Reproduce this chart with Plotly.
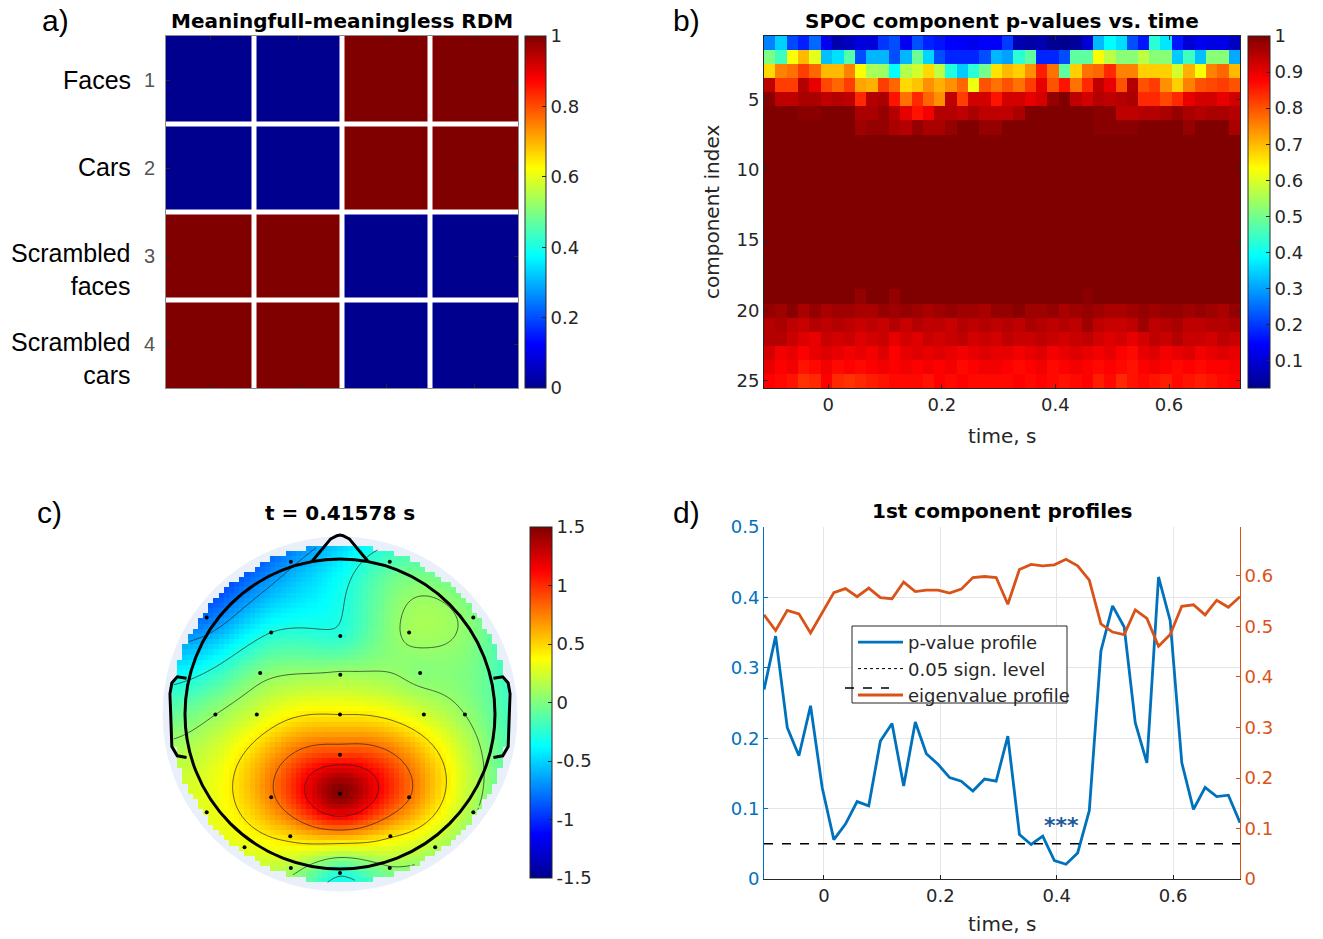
import numpy as np
import plotly.graph_objects as go

# ------------------------------------------------------------------ data
rdm_index = [1, 2, 3, 4]
rdm_labels = ["Faces", "Cars", "Scrambled<br>faces", "Scrambled<br>cars"]
rdm_values = [[0, 0, 1, 1],
              [0, 0, 1, 1],
              [1, 1, 0, 0],
              [1, 1, 0, 0]]

times = [-0.103, -0.083, -0.063, -0.043, -0.023, -0.003, 0.017, 0.037, 0.057, 0.077,
         0.097, 0.117, 0.137, 0.157, 0.176, 0.196, 0.216, 0.236, 0.256, 0.276,
         0.296, 0.316, 0.336, 0.356, 0.376, 0.396, 0.416, 0.436, 0.456, 0.476,
         0.496, 0.516, 0.535, 0.555, 0.575, 0.595, 0.615, 0.635, 0.655, 0.675,
         0.695, 0.715]
components = list(range(1, 26))

# 1st component p-value profile (also row 1 of the SPOC map)
p_profile = [0.269, 0.345, 0.215, 0.175, 0.246, 0.130, 0.056, 0.078, 0.110, 0.104,
             0.196, 0.221, 0.132, 0.223, 0.178, 0.163, 0.144, 0.139, 0.125, 0.142,
             0.139, 0.203, 0.063, 0.049, 0.061, 0.026, 0.021, 0.037, 0.097, 0.324,
             0.388, 0.358, 0.222, 0.165, 0.429, 0.367, 0.165, 0.099, 0.130, 0.117,
             0.119, 0.080]
eig_profile = [0.523, 0.492, 0.532, 0.525, 0.487, 0.528, 0.567, 0.575, 0.559, 0.576,
               0.557, 0.555, 0.588, 0.569, 0.572, 0.572, 0.566, 0.574, 0.597, 0.599,
               0.597, 0.544, 0.613, 0.623, 0.620, 0.622, 0.633, 0.620, 0.592, 0.505,
               0.489, 0.484, 0.533, 0.516, 0.461, 0.484, 0.540, 0.543, 0.523, 0.552,
               0.538, 0.559]
sign_level = 0.05
star_time, star_value = 0.408, 0.076

row02 = [0.51, 0.45, 0.63, 0.70, 0.61, 0.33, 0.36, 0.47, 0.22, 0.32, 0.32, 0.22, 0.32, 0.49, 0.35, 0.22, 0.18, 0.18, 0.18, 0.22, 0.32,
         0.30, 0.43, 0.48, 0.18, 0.18, 0.22, 0.48, 0.48, 0.63, 0.57, 0.52, 0.52, 0.57, 0.52, 0.52, 0.34, 0.45, 0.33, 0.52, 0.52, 0.31]
row03 = [0.67, 0.755, 0.77, 0.82, 0.78, 0.70, 0.70, 0.755, 0.63, 0.55, 0.54, 0.39, 0.56, 0.59, 0.67, 0.57, 0.42, 0.34, 0.43, 0.50, 0.66,
         0.70, 0.68, 0.74, 0.85, 0.77, 0.48, 0.68, 0.77, 0.78, 0.84, 0.755, 0.755, 0.68, 0.68, 0.68, 0.59, 0.71, 0.63, 0.755, 0.78, 0.70]
row04 = [0.94, 0.82, 0.82, 0.95, 0.90, 0.81, 0.78, 0.82, 0.72, 0.71, 0.82, 0.78, 0.67, 0.69, 0.74, 0.71, 0.74, 0.78, 0.62, 0.80, 0.77,
         0.80, 0.77, 0.82, 0.90, 0.80, 0.86, 0.77, 0.84, 0.94, 0.90, 0.80, 0.95, 0.80, 0.82, 0.74, 0.68, 0.755, 0.80, 0.81, 0.82, 0.80]
row05 = [0.99, 0.94, 0.94, 0.96, 0.96, 0.94, 0.95, 0.94, 0.84, 0.95, 0.96, 0.86, 0.77, 0.84, 0.78, 0.74, 0.94, 0.82, 0.92, 0.92, 0.86,
         0.92, 0.92, 0.90, 0.92, 0.98, 1.00, 0.94, 0.92, 0.95, 0.94, 0.95, 0.96, 0.84, 0.84, 0.81, 0.84, 0.90, 0.92, 0.92, 0.90, 0.92]
row06 = [1.00, 1.00, 1.00, 0.99, 0.99, 1.00, 1.00, 1.00, 0.96, 0.96, 0.98, 0.95, 0.90, 0.86, 0.89, 0.95, 0.95, 0.94, 0.96, 0.94, 0.94,
         0.94, 0.96, 1.00, 1.00, 1.00, 1.00, 1.00, 1.00, 0.99, 0.99, 0.94, 0.94, 0.95, 0.95, 0.96, 0.98, 0.96, 0.95, 0.96, 0.96, 0.95]
row07 = [1.00, 1.00, 1.00, 1.00, 1.00, 1.00, 1.00, 1.00, 0.97, 0.98, 0.98, 0.96, 0.95, 0.98, 0.96, 0.96, 0.98, 1.00, 1.00, 0.98, 0.98,
         1.00, 1.00, 1.00, 1.00, 1.00, 1.00, 1.00, 1.00, 0.99, 0.99, 0.99, 0.99, 1.00, 1.00, 1.00, 1.00, 0.98, 1.00, 1.00, 1.00, 0.96]
row_flat = [1.00] * 42   # components 8-18 are saturated
row19 = [1.00, 1.00, 1.00, 1.00, 1.00, 1.00, 1.00, 1.00, 0.98, 1.00, 1.00, 0.98, 1.00, 1.00, 1.00, 1.00, 1.00, 1.00, 1.00, 1.00, 1.00,
         1.00, 1.00, 1.00, 1.00, 1.00, 1.00, 1.00, 0.99, 1.00, 1.00, 1.00, 1.00, 1.00, 1.00, 1.00, 1.00, 1.00, 1.00, 1.00, 1.00, 1.00]
row20 = [0.98, 0.97, 0.99, 0.96, 0.98, 0.96, 0.97, 0.97, 0.96, 0.96, 0.98, 0.97, 0.98, 0.97, 0.96, 0.97, 0.98, 0.97, 0.97, 0.96, 0.98,
         0.98, 0.99, 0.97, 0.97, 0.98, 0.96, 0.97, 0.98, 0.97, 0.96, 0.96, 0.97, 0.98, 0.97, 0.98, 0.98, 0.97, 0.98, 0.97, 0.96, 0.98]
row21 = [0.95, 0.96, 0.94, 0.93, 0.95, 0.94, 0.95, 0.94, 0.93, 0.94, 0.93, 0.95, 0.93, 0.95, 0.94, 0.94, 0.93, 0.95, 0.94, 0.95, 0.94,
         0.95, 0.94, 0.96, 0.95, 0.94, 0.95, 0.94, 0.97, 0.94, 0.93, 0.93, 0.94, 0.97, 0.94, 0.95, 0.96, 0.94, 0.94, 0.95, 0.95, 0.96]
row22 = [0.95, 0.95, 0.93, 0.91, 0.90, 0.93, 0.92, 0.93, 0.91, 0.92, 0.93, 0.90, 0.92, 0.91, 0.93, 0.92, 0.93, 0.94, 0.92, 0.93, 0.92,
         0.94, 0.93, 0.93, 0.94, 0.93, 0.92, 0.93, 0.94, 0.92, 0.91, 0.92, 0.90, 0.92, 0.94, 0.93, 0.95, 0.93, 0.93, 0.92, 0.94, 0.93]
row23 = [0.92, 0.89, 0.90, 0.88, 0.90, 0.91, 0.90, 0.89, 0.90, 0.89, 0.91, 0.88, 0.90, 0.91, 0.90, 0.91, 0.90, 0.89, 0.90, 0.91, 0.90,
         0.90, 0.89, 0.90, 0.91, 0.89, 0.90, 0.91, 0.90, 0.89, 0.90, 0.88, 0.87, 0.90, 0.91, 0.89, 0.90, 0.91, 0.89, 0.90, 0.91, 0.90]
row24 = [0.90, 0.88, 0.89, 0.86, 0.87, 0.89, 0.87, 0.88, 0.87, 0.88, 0.89, 0.88, 0.89, 0.88, 0.89, 0.88, 0.89, 0.87, 0.88, 0.89, 0.89,
         0.88, 0.87, 0.88, 0.89, 0.87, 0.88, 0.89, 0.88, 0.87, 0.88, 0.87, 0.86, 0.88, 0.89, 0.88, 0.87, 0.88, 0.87, 0.88, 0.88, 0.89]
row25 = [0.88, 0.87, 0.86, 0.83, 0.84, 0.88, 0.84, 0.83, 0.84, 0.85, 0.86, 0.87, 0.87, 0.87, 0.86, 0.88, 0.87, 0.88, 0.87, 0.87, 0.87,
         0.87, 0.88, 0.87, 0.88, 0.87, 0.86, 0.87, 0.88, 0.85, 0.87, 0.84, 0.86, 0.87, 0.86, 0.85, 0.87, 0.86, 0.85, 0.86, 0.87, 0.88]

spoc_p = [p_profile, row02, row03, row04, row05, row06, row07] + [row_flat] * 11 + \
         [row19, row20, row21, row22, row23, row24, row25]
for r in spoc_p:
    assert len(r) == len(times)

# topography at t = 0.41578 s (electrode positions in head-radius units, values)
elec_x = [-0.317, 0.321, -0.860, 0.860, -0.444, 0.002, 0.446, -0.515, 0.002, 0.517,
          -0.804, -0.537, 0.000, 0.541, 0.806, 0.000, -0.444, 0.000, 0.446, -0.860,
          0.860, -0.321, 0.325, -0.616, 0.614, -0.317, 0.000, 0.321]
elec_y = [0.983, 0.983, 0.623, 0.623, 0.526, 0.504, 0.526, 0.265, 0.254, 0.265,
          -0.004, -0.004, -0.004, -0.004, -0.004, -0.263, -0.537, -0.515, -0.537, -0.634,
          -0.634, -0.789, -0.789, -0.860, -0.860, -0.994, -1.026, -0.994]
elec_val = [-0.68, -0.15, -0.80, 0.00, -0.29, -0.25, 0.10, 0.00, 0.10, 0.02,
            0.07, 0.25, 0.43, 0.25, 0.07, 0.95, 0.75, 1.50, 0.80, 0.30,
            0.10, 0.50, 0.45, 0.30, 0.15, 0.15, -0.25, 0.05]
topo_levels = [-0.64, -0.29, 0.07, 0.43, 0.79, 1.14]

# ------------------------------------------------------------------ helpers
W, H = 1323, 939
def fx(p): return p / W
def fy(p): return 1 - p / H

JET = [[0.0, "#00008F"], [0.125, "#0000FF"], [0.375, "#00FFFF"],
       [0.625, "#FFFF00"], [0.875, "#FF0000"], [1.0, "#800000"]]
FONT = "DejaVu Sans"
TXT = "#262626"
BLUE = "#0072BD"
ORANGE = "#D95319"

# biharmonic spline (griddata 'v4') interpolation of electrode values
ex, ey, ev = np.array(elec_x), np.array(elec_y), np.array(elec_val)
def green(r):
    with np.errstate(divide="ignore", invalid="ignore"):
        g = r ** 2 * (np.log(r) - 1)
    return np.where(r == 0, 0.0, g)
wts = np.linalg.solve(green(np.hypot(ex[:, None] - ex[None, :], ey[:, None] - ey[None, :])), ev)
def topo_grid(n, rmax=1.09):
    g = np.linspace(-1.1, 1.1, n)
    GX, GY = np.meshgrid(g, g)
    Z = green(np.hypot(GX[..., None] - ex, GY[..., None] - ey)) @ wts
    Z[np.hypot(GX, GY) > rmax] = np.nan
    return g, Z

def iso_segments(g, Z, level):
    xs, ys = [], []
    n = len(g)
    for j in range(n - 1):
        for i in range(n - 1):
            c = (Z[j, i], Z[j, i + 1], Z[j + 1, i + 1], Z[j + 1, i])
            if any(np.isnan(c)):
                continue
            p = ((g[i], g[j]), (g[i + 1], g[j]), (g[i + 1], g[j + 1]), (g[i], g[j + 1]))
            pts = []
            for a in range(4):
                b = (a + 1) % 4
                va, vb = c[a] - level, c[b] - level
                if (va < 0) != (vb < 0):
                    t = va / (va - vb)
                    pts.append((p[a][0] + t * (p[b][0] - p[a][0]), p[a][1] + t * (p[b][1] - p[a][1])))
            for k in range(0, len(pts) - 1, 2):
                xs += [pts[k][0], pts[k + 1][0], None]
                ys += [pts[k][1], pts[k + 1][1], None]
    return xs, ys

fig = go.Figure()

# ------------------------------------------------------------------ panel a
fig.add_trace(go.Heatmap(z=rdm_values, x=rdm_index, y=rdm_index, coloraxis="coloraxis",
                         xaxis="x", yaxis="y", hoverinfo="skip"))

# ------------------------------------------------------------------ panel b
fig.add_trace(go.Heatmap(z=spoc_p, x=times, y=components, coloraxis="coloraxis2",
                         xaxis="x2", yaxis="y2", zsmooth=False, hoverinfo="skip"))

# ------------------------------------------------------------------ panel c
gx, Zc = topo_grid(67)
fig.add_trace(go.Heatmap(z=Zc, x=gx, y=gx, coloraxis="coloraxis3", xaxis="x3", yaxis="y3",
                         zsmooth=False, hoverinfo="skip"))
gf, Zf = topo_grid(161)
for lv in topo_levels:
    sx, sy = iso_segments(gf, Zf, lv)
    fig.add_trace(go.Scatter(x=sx, y=sy, mode="lines", xaxis="x3", yaxis="y3",
                             line=dict(color="#222222", width=0.7), showlegend=False, hoverinfo="skip"))
nose_x = [-0.18, -0.06, -0.02, 0.0, 0.02, 0.06, 0.18]
nose_y = [0.985, 1.13, 1.15, 1.155, 1.15, 1.13, 0.985]
ear_x = [-0.99, -1.05, -1.085, -1.097, -1.085, -1.05, -0.99]
ear_y = [0.23, 0.24, 0.20, 0.13, -0.21, -0.27, -0.28]
for xs, ys in [(nose_x, nose_y), (ear_x, ear_y), ([-v for v in ear_x], ear_y)]:
    fig.add_trace(go.Scatter(x=xs, y=ys, mode="lines", xaxis="x3", yaxis="y3",
                             line=dict(color="black", width=3), showlegend=False, hoverinfo="skip"))
fig.add_trace(go.Scatter(x=elec_x, y=elec_y, mode="markers", xaxis="x3", yaxis="y3",
                         marker=dict(color="black", size=4), showlegend=False, hoverinfo="skip"))

# ------------------------------------------------------------------ panel d
fig.add_trace(go.Scatter(x=times, y=p_profile, mode="lines", name="p-value profile",
                         line=dict(color=BLUE, width=2.8), xaxis="x4", yaxis="y4"))
fig.add_trace(go.Scatter(x=[None], y=[None], mode="lines", name="0.05 sign. level",
                         line=dict(color="black", width=1, dash="dot"), xaxis="x4", yaxis="y4"))
fig.add_trace(go.Scatter(x=times, y=eig_profile, mode="lines", name="eigenvalue profile",
                         line=dict(color=ORANGE, width=2.8), xaxis="x4", yaxis="y5"))
fig.add_trace(go.Scatter(x=[times[0], times[-1]], y=[sign_level, sign_level], mode="lines",
                         line=dict(color="black", width=1.5, dash="dash"), xaxis="x4", yaxis="y4",
                         showlegend=False, hoverinfo="skip"))

# ------------------------------------------------------------------ layout
tickfont = dict(family=FONT, size=18, color=TXT)

def cbar(x0, y_top, y_bot, thick, vals, texts):
    return dict(x=fx(x0), xanchor="left", y=fy(y_bot), yanchor="bottom",
                len=(y_bot - y_top) / H, lenmode="fraction", thickness=thick,
                thicknessmode="pixels", xpad=0, ypad=0, outlinewidth=1, outlinecolor=TXT,
                tickvals=vals, ticktext=texts, ticks="inside", ticklen=4, tickcolor=TXT,
                tickfont=tickfont)

shapes = []
for b in [v + 0.5 for v in rdm_index[:-1]]:
    shapes.append(dict(type="line", xref="x", yref="y", x0=b, x1=b, y0=0.5, y1=4.5,
                       line=dict(color="white", width=5)))
    shapes.append(dict(type="line", xref="x", yref="y", y0=b, y1=b, x0=0.5, x1=4.5,
                       line=dict(color="white", width=5)))
shapes.append(dict(type="circle", xref="x3", yref="y3", x0=-1.145, y0=-1.145, x1=1.145, y1=1.145,
                   fillcolor="#e9f0f9", line=dict(width=0), layer="below"))
shapes.append(dict(type="circle", xref="x3", yref="y3", x0=-1, y0=-1, x1=1, y1=1,
                   line=dict(color="black", width=3), layer="above"))
# legend box of panel d and the stray dash drawn over it
shapes.append(dict(type="rect", xref="paper", yref="paper", x0=fx(852), x1=fx(1067),
                   y0=fy(703), y1=fy(626), fillcolor="white", line=dict(color=TXT, width=1),
                   layer="above"))
shapes.append(dict(type="line", xref="paper", yref="paper", x0=fx(845), x1=fx(889),
                   y0=fy(688), y1=fy(688), line=dict(color="black", width=1.5, dash="dash"),
                   layer="above"))

ann = []
def label(text, x, y, size, bold=False, family=FONT, color="black", **kw):
    ann.append(dict(text=f"<b>{text}</b>" if bold else text, x=fx(x), y=fy(y), xref="paper",
                    yref="paper", showarrow=False, font=dict(family=family, size=size, color=color),
                    xanchor=kw.pop("xanchor", "center"), yanchor=kw.pop("yanchor", "middle"), **kw))

for t, x, y in [("a)", 55, 20), ("b)", 686, 20), ("c)", 49, 512), ("d)", 686, 512)]:
    label(t, x, y, 30, family="Liberation Sans")
label("Meaningfull-meaningless RDM", 342, 21, 20, bold=True)
label("SPOC component p-values vs. time", 1002, 21, 20, bold=True)
label("t = 0.41578 s", 340, 513, 20, bold=True)
label("1st component profiles", 1002, 511, 20, bold=True)
label("time, s", 1002, 436, 20, color=TXT)
label("time, s", 1002, 924, 20, color=TXT)
label("component index", 712, 212, 20, color=TXT, textangle=-90)
for lab, yc in zip(rdm_labels, [80, 167, 270, 358]):
    label(lab, 133, yc, 25, family="Liberation Sans", xanchor="right", align="right")
ann.append(dict(text="<b>***</b>", x=star_time, y=star_value, xref="x4", yref="y4", showarrow=False,
                font=dict(family=FONT, size=22, color="#1d5a9c")))

common_ax = dict(showgrid=False, zeroline=False, ticks="inside", ticklen=4, tickcolor=TXT,
                 tickfont=tickfont, showline=True, linecolor=TXT, linewidth=1)

fig.update_layout(
    width=W, height=H, margin=dict(l=0, r=0, t=0, b=0, autoexpand=False),
    paper_bgcolor="white", plot_bgcolor="white",
    annotations=ann, shapes=shapes,
    coloraxis=dict(colorscale=JET, cmin=0, cmax=1,
                   colorbar=cbar(525, 36, 388, 21, [0, 0.2, 0.4, 0.6, 0.8, 1],
                                 ["0", "0.2", "0.4", "0.6", "0.8", "1"])),
    coloraxis2=dict(colorscale=JET, cmin=0.024, cmax=1.0,
                    colorbar=cbar(1248, 36, 388, 22, [0.1, 0.2, 0.3, 0.4, 0.5, 0.6, 0.7, 0.8, 0.9, 1.0],
                                  ["0.1", "0.2", "0.3", "0.4", "0.5", "0.6", "0.7", "0.8", "0.9", "1"])),
    coloraxis3=dict(colorscale=JET, cmin=-1.5, cmax=1.5,
                    colorbar=cbar(530, 527, 878, 22, [-1.5, -1, -0.5, 0, 0.5, 1, 1.5],
                                  ["-1.5", "-1", "-0.5", "0", "0.5", "1", "1.5"])),
    # panel a
    xaxis=dict(common_ax, domain=[fx(166), fx(518)], range=[0.5, 4.5], tickvals=rdm_index,
               showticklabels=False, anchor="y", linecolor="#8c8c8c", mirror="ticks"),
    yaxis=dict(common_ax, domain=[fy(388), fy(36)], range=[4.5, 0.5], tickvals=rdm_index,
               ticktext=[str(v) for v in rdm_index], anchor="x", linecolor="#8c8c8c",
               mirror="ticks", tickfont=dict(family="Liberation Sans", size=20, color="#555555"),
               ticklabelstandoff=6),
    # panel b
    xaxis2=dict(common_ax, domain=[fx(764), fx(1240)], range=[-0.113, 0.725],
                tickvals=[0, 0.2, 0.4, 0.6], ticktext=["0", "0.2", "0.4", "0.6"], anchor="y2",
                mirror="ticks"),
    yaxis2=dict(common_ax, domain=[fy(388), fy(36)], range=[25.5, 0.5],
                tickvals=[5, 10, 15, 20, 25], anchor="x2", mirror="ticks"),
    # panel c
    xaxis3=dict(domain=[fx(154), fx(526)], range=[-1.2, 1.2], visible=False, anchor="y3"),
    yaxis3=dict(domain=[fy(900), fy(528)], range=[-1.2, 1.2], visible=False, anchor="x3"),
    # panel d
    xaxis4=dict(common_ax, domain=[fx(764), fx(1240)], range=[times[0], times[-1]],
                tickvals=[0, 0.2, 0.4, 0.6], ticktext=["0", "0.2", "0.4", "0.6"], anchor="y4",
                showgrid=True, gridcolor="#e3e6ea"),
    yaxis4=dict(common_ax, domain=[fy(879), fy(527)], range=[0, 0.5],
                tickvals=[0, 0.1, 0.2, 0.3, 0.4, 0.5], ticktext=["0", "0.1", "0.2", "0.3", "0.4", "0.5"],
                anchor="x4", showgrid=True, gridcolor="#e3e6ea", linecolor=BLUE, tickcolor=BLUE,
                tickfont=dict(family=FONT, size=18, color=BLUE)),
    yaxis5=dict(common_ax, overlaying="y4", side="right", anchor="x4", range=[0, 0.697],
                tickvals=[0, 0.1, 0.2, 0.3, 0.4, 0.5, 0.6],
                ticktext=["0", "0.1", "0.2", "0.3", "0.4", "0.5", "0.6"],
                linecolor=ORANGE, tickcolor=ORANGE,
                tickfont=dict(family=FONT, size=18, color=ORANGE)),
    legend=dict(x=fx(853), y=fy(624), xanchor="left", yanchor="top", bgcolor="rgba(0,0,0,0)",
                borderwidth=0, font=dict(family=FONT, size=18, color=TXT), itemwidth=45,
                tracegroupgap=0),
    showlegend=True,
)

fig.write_html("out.html")
